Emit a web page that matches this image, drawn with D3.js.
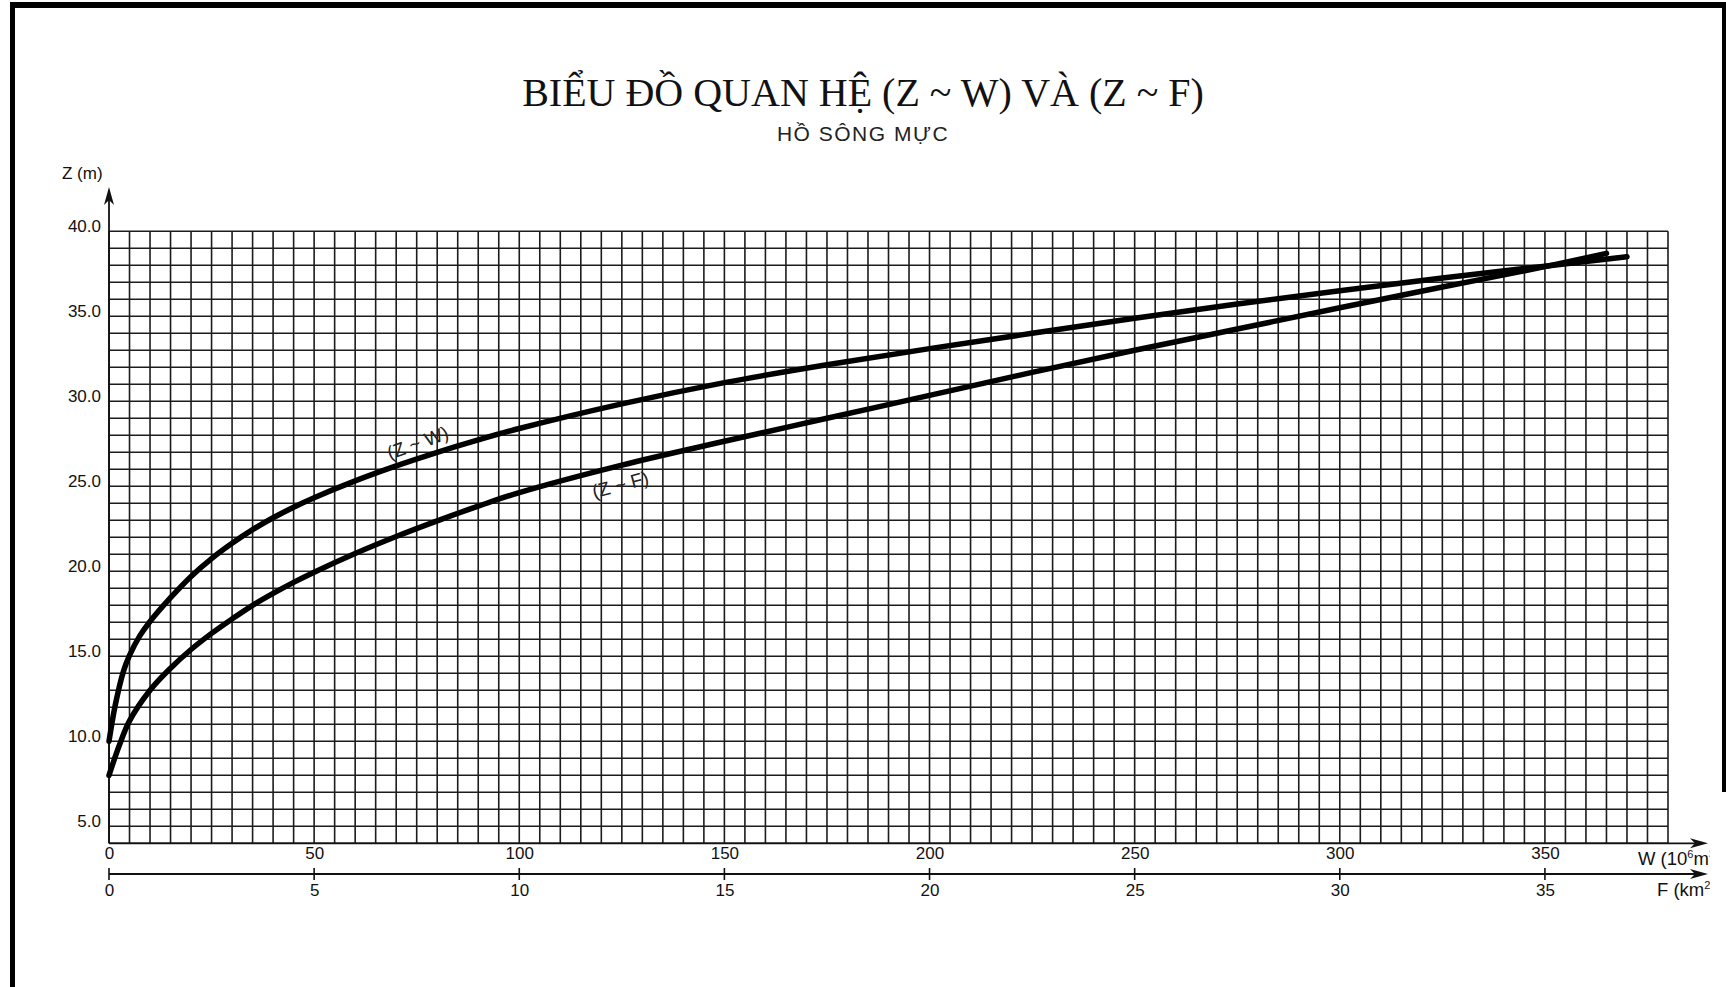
<!DOCTYPE html>
<html>
<head>
<meta charset="utf-8">
<script src="https://cdn.jsdelivr.net/npm/d3@7"></script>
<style>
  html, body { margin: 0; padding: 0; background: #fff; }
  svg { display: block; }
  .tick text { font-family: "Liberation Sans", Arial, sans-serif; font-size: 17px; fill: #111; }
</style>
</head>
<body>
<svg id="chart" width="1726" height="987"></svg>
<script>
// titles
const title = "BIỂU ĐỒ QUAN HỆ (Z ~ W) VÀ (Z ~ F)"
const subtitle = "HỒ SÔNG MỰC"

// tick labels
const wTicks = [0, 50, 100, 150, 200, 250, 300, 350]
const fTicks = [0, 5, 10, 15, 20, 25, 30, 35]
const zTicks = [5, 10, 15, 20, 25, 30, 35, 40]

// Z ~ W  (W in 10^6 m3, Z in m)
const wValues = [0, 1.5, 3.5, 5, 7.5, 10, 15, 20, 25, 30, 35, 40, 45, 50, 60, 70, 80, 90, 100, 125, 150, 175, 200, 225, 250, 275, 300, 325, 350, 370]
const zwValues = [10.0, 12.1, 14.1, 15.05, 16.2, 17.05, 18.45, 19.7, 20.75, 21.65, 22.45, 23.15, 23.77, 24.33, 25.32, 26.2, 27.0, 27.73, 28.4, 29.85, 31.1, 32.15, 33.1, 34.0, 34.88, 35.72, 36.5, 37.25, 37.95, 38.5]

// Z ~ F  (F in km2, Z in m)
const fValues = [0, 0.25, 0.5, 1, 1.5, 2, 2.5, 3, 3.5, 4, 4.5, 5, 6, 7, 8, 9, 10, 12.5, 15, 17.5, 20, 22.5, 25, 27.5, 30, 32.5, 35, 36.5]
const zfValues = [8.0, 9.75, 11.2, 13.0, 14.3, 15.4, 16.35, 17.2, 18.0, 18.7, 19.35, 19.95, 21.05, 22.05, 22.97, 23.83, 24.63, 26.25, 27.65, 29.0, 30.35, 31.7, 33.0, 34.25, 35.5, 36.72, 37.92, 38.7]

const svg = d3.select("#chart")

const x = d3.scaleLinear().domain([0, 380]).range([109, 1668])
const xF = d3.scaleLinear().domain([0, 38]).range([109, 1668])
const y = d3.scaleLinear().domain([4, 40]).range([843.3, 231.3])

const x0 = x(0), xEnd = 1708
const fAxisY = 874
const sans = "'Liberation Sans', Arial, sans-serif"

// frame
svg.append("rect").attr("x", 10).attr("y", 2).attr("width", 1716).attr("height", 6).attr("fill", "#000")
svg.append("rect").attr("x", 10).attr("y", 2).attr("width", 5).attr("height", 985).attr("fill", "#000")
svg.append("rect").attr("x", 1722).attr("y", 2).attr("width", 4).attr("height", 790).attr("fill", "#000")

// title
svg.append("text")
    .attr("x", 863).attr("y", 106)
    .attr("text-anchor", "middle")
    .style("font-family", "'Liberation Serif', 'Times New Roman', serif")
    .style("font-size", "40px")
    .attr("fill", "#111")
    .text(title)
svg.append("text")
    .attr("x", 863).attr("y", 141)
    .attr("text-anchor", "middle")
    .style("font-family", sans)
    .style("font-size", "21px")
    .style("letter-spacing", "1.5px")
    .attr("fill", "#222")
    .text(subtitle)

// grid
const grid = svg.append("g").attr("stroke", "#1c1c1c").attr("stroke-width", 1.6)
grid.selectAll("line.v")
    .data(d3.range(0, 381, 5))
    .join("line")
    .attr("class", "v")
    .attr("x1", d => x(d)).attr("x2", d => x(d))
    .attr("y1", y(4)).attr("y2", y(40))
grid.selectAll("line.h")
    .data(d3.range(4, 41, 1))
    .join("line")
    .attr("class", "h")
    .attr("x1", x(0)).attr("x2", x(380))
    .attr("y1", d => y(d)).attr("y2", d => y(d))

// arrow heads
function arrowRight(g, xt, yt) {
    g.append("path")
        .attr("d", `M${xt},${yt} L${xt - 18},${yt - 5} L${xt - 13},${yt} L${xt - 18},${yt + 5} Z`)
        .attr("fill", "#111")
}

// Z axis
svg.append("line")
    .attr("x1", x0).attr("x2", x0)
    .attr("y1", y(4)).attr("y2", 190)
    .attr("stroke", "#111").attr("stroke-width", 1.8)
svg.append("path")
    .attr("d", `M${x0},187 L${x0 - 5},205 L${x0},200 L${x0 + 5},205 Z`)
    .attr("fill", "#111")
svg.append("text")
    .attr("x", 62).attr("y", 179)
    .style("font-family", sans)
    .style("font-size", "17px")
    .attr("fill", "#111")
    .text("Z (m)")

const yAxis = svg.append("g")
    .attr("transform", `translate(${x0 - 8},-5)`)
    .call(d3.axisLeft(y).tickValues(zTicks).tickSize(0).tickPadding(0).tickFormat(d3.format(".1f")))
yAxis.select(".domain").remove()

// W axis (bottom grid line extended with arrow)
svg.append("line")
    .attr("x1", x0).attr("x2", xEnd - 6)
    .attr("y1", y(4)).attr("y2", y(4))
    .attr("stroke", "#111").attr("stroke-width", 1.8)
arrowRight(svg, xEnd, y(4))
const wAxis = svg.append("g")
    .attr("transform", `translate(0,${y(4) + 2})`)
    .call(d3.axisBottom(x).tickValues(wTicks).tickSize(0).tickPadding(2))
wAxis.select(".domain").remove()

// F axis
svg.append("line")
    .attr("x1", x0).attr("x2", xEnd - 6)
    .attr("y1", fAxisY).attr("y2", fAxisY)
    .attr("stroke", "#111").attr("stroke-width", 1.8)
arrowRight(svg, xEnd, fAxisY)
svg.append("g").selectAll("line")
    .data(fTicks)
    .join("line")
    .attr("x1", d => xF(d)).attr("x2", d => xF(d))
    .attr("y1", fAxisY - 6).attr("y2", fAxisY + 6)
    .attr("stroke", "#111").attr("stroke-width", 1.6)
const fAxis = svg.append("g")
    .attr("transform", `translate(0,${fAxisY + 8})`)
    .call(d3.axisBottom(xF).tickValues(fTicks).tickSize(0).tickPadding(2))
fAxis.select(".domain").remove()

// axis names, cut off at the right like the original
svg.append("clipPath").attr("id", "cut")
    .append("rect").attr("x", 1600).attr("y", 840).attr("width", 110).attr("height", 70)
const names = svg.append("g").attr("clip-path", "url(#cut)")
    .style("font-family", sans)
    .style("font-size", "18.5px")
    .attr("fill", "#111")
const wName = names.append("text").attr("x", 1638).attr("y", 865)
wName.append("tspan").text("W (10")
wName.append("tspan").attr("dy", -7).style("font-size", "11px").text("6")
wName.append("tspan").attr("dy", 7).text("m")
wName.append("tspan").attr("dy", -7).style("font-size", "11px").text("3")
wName.append("tspan").attr("dy", 7).text(")")
const fName = names.append("text").attr("x", 1657).attr("y", 896)
fName.append("tspan").text("F (km")
fName.append("tspan").attr("dy", -7).style("font-size", "11px").text("2")
fName.append("tspan").attr("dy", 7).text(")")

// curves
const lineW = d3.line().x(d => x(d[0])).y(d => y(d[1])).curve(d3.curveCatmullRom.alpha(0.5))
const lineF = d3.line().x(d => xF(d[0])).y(d => y(d[1])).curve(d3.curveCatmullRom.alpha(0.5))

svg.append("path")
    .datum(d3.zip(wValues, zwValues))
    .attr("d", lineW)
    .attr("fill", "none").attr("stroke", "#000")
    .attr("stroke-width", 5.5).attr("stroke-linecap", "round").attr("stroke-linejoin", "round")
svg.append("path")
    .datum(d3.zip(fValues, zfValues))
    .attr("d", lineF)
    .attr("fill", "none").attr("stroke", "#000")
    .attr("stroke-width", 5.5).attr("stroke-linecap", "round").attr("stroke-linejoin", "round")

// curve labels
svg.append("text")
    .attr("transform", "translate(420,449) rotate(-20)")
    .attr("text-anchor", "middle")
    .style("font-family", sans)
    .style("font-size", "19px")
    .attr("fill", "#222")
    .text("(Z ~ W)")
svg.append("text")
    .attr("transform", "translate(622,491) rotate(-15)")
    .attr("text-anchor", "middle")
    .style("font-family", sans)
    .style("font-size", "19px")
    .attr("fill", "#222")
    .text("(Z ~ F)")
</script>
</body>
</html>
